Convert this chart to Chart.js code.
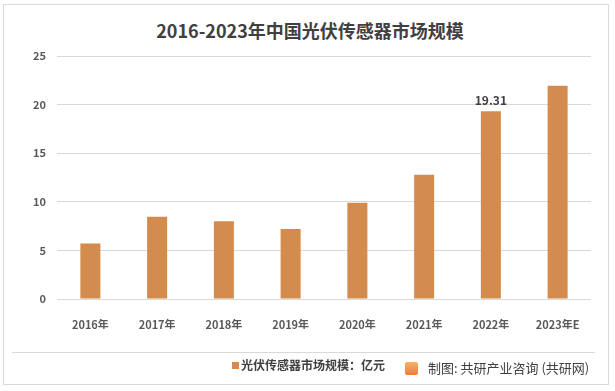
<!DOCTYPE html>
<html>
<head>
<meta charset="utf-8">
<script src="https://cdn.jsdelivr.net/npm/chart.js@4.4.1/dist/chart.umd.min.js"></script>
<style>
  body { margin: 0; background: #fff; }
  #wrap { position: relative; width: 615px; height: 391px; font-family: "Noto Sans CJK SC", "Noto Sans", sans-serif; }
  #frame { position: absolute; left: 3px; top: 4px; width: 604px; height: 379px; border: 1px solid #d9d9d9; }
  #title { position: absolute; left: 0; width: 620px; top: 17px; text-align: center; font-size: 18px; font-weight: bold; color: #404040; }
  #sep { position: absolute; left: 12px; top: 352px; width: 583px; height: 1px; background: #d9d9d9; }
  #legend { position: absolute; left: 232px; top: 357px; font-size: 12px; font-weight: bold; color: #404040; line-height: 16px; }
  #legend i { display: inline-block; width: 7px; height: 7px; background: #d48c4e; margin-right: 2px; vertical-align: 1px; }
  #source { position: absolute; left: 405px; top: 359px; font-size: 13px; color: #404040; line-height: 18px; }
  #source b { display: inline-block; width: 13px; height: 13px; border-radius: 2px; background: linear-gradient(#f7b26a, #ef7a3a); margin-right: 10px; vertical-align: -2px; }
  canvas { position: absolute; left: 0; top: 0; }
</style>
</head>
<body>
<div id="wrap">
  <div id="frame"></div>
  <div id="title">2016-2023年中国光伏传感器市场规模</div>
  <canvas id="chart" width="615" height="391"></canvas>
  <div id="sep"></div>
  <div id="legend"><i></i><span id="legendText"></span></div>
  <div id="source"><b></b>制图: 共研产业咨询 (共研网)</div>
</div>
<script>
const years = ['2016年', '2017年', '2018年', '2019年', '2020年', '2021年', '2022年', '2023年E'];
const marketSize = [5.7, 8.47, 8.0, 7.2, 9.9, 12.79, 19.31, 21.95];
const labelled = [false, false, false, false, false, false, true, false];
const seriesName = '光伏传感器市场规模：亿元';
const yTicks = [0, 5, 10, 15, 20, 25];

document.getElementById('legendText').textContent = seriesName;

// only the 2022 bar carries a value label
const barLabels = {
    id: 'barLabels',
    afterDatasetsDraw(chart) {
        const ctx = chart.ctx;
        const meta = chart.getDatasetMeta(0);
        ctx.save();
        ctx.font = 'bold 12px "Noto Sans CJK SC", sans-serif';
        ctx.fillStyle = '#404040';
        ctx.textAlign = 'center';
        ctx.textBaseline = 'bottom';
        meta.data.forEach((bar, i) => {
            if (!labelled[i]) return;
            ctx.fillText(marketSize[i].toFixed(2), bar.x, bar.y - 5);
        });
        ctx.restore();
    }
};

new Chart(document.getElementById('chart'), {
    type: 'bar',
    data: {
        labels: years,
        datasets: [{
            label: seriesName,
            data: marketSize,
            backgroundColor: '#d48c4e',
            barPercentage: 0.3,
            categoryPercentage: 1
        }]
    },
    options: {
        responsive: false,
        animation: false,
        layout: { padding: { left: 7, right: 24, top: 56, bottom: 62 } },
        plugins: { legend: { display: false }, title: { display: false }, tooltip: { enabled: false } },
        scales: {
            x: {
                grid: { display: false },
                border: { display: false },
                ticks: { color: '#595959', font: { size: 11, weight: 'bold', family: '"Noto Sans CJK SC", sans-serif' }, padding: 11 },
                afterFit: s => { s.height = 30; }
            },
            y: {
                min: 0, max: 25,
                afterBuildTicks: s => { s.ticks = yTicks.map(v => ({ value: v })); },
                grid: { color: '#d9d9d9', drawTicks: false },
                border: { display: false },
                ticks: { color: '#595959', font: { size: 11, weight: 'bold', family: '"Noto Sans CJK SC", sans-serif' }, padding: 11 },
                afterFit: s => { s.width = 50; }
            }
        }
    },
    plugins: [barLabels]
});
</script>
</body>
</html>
